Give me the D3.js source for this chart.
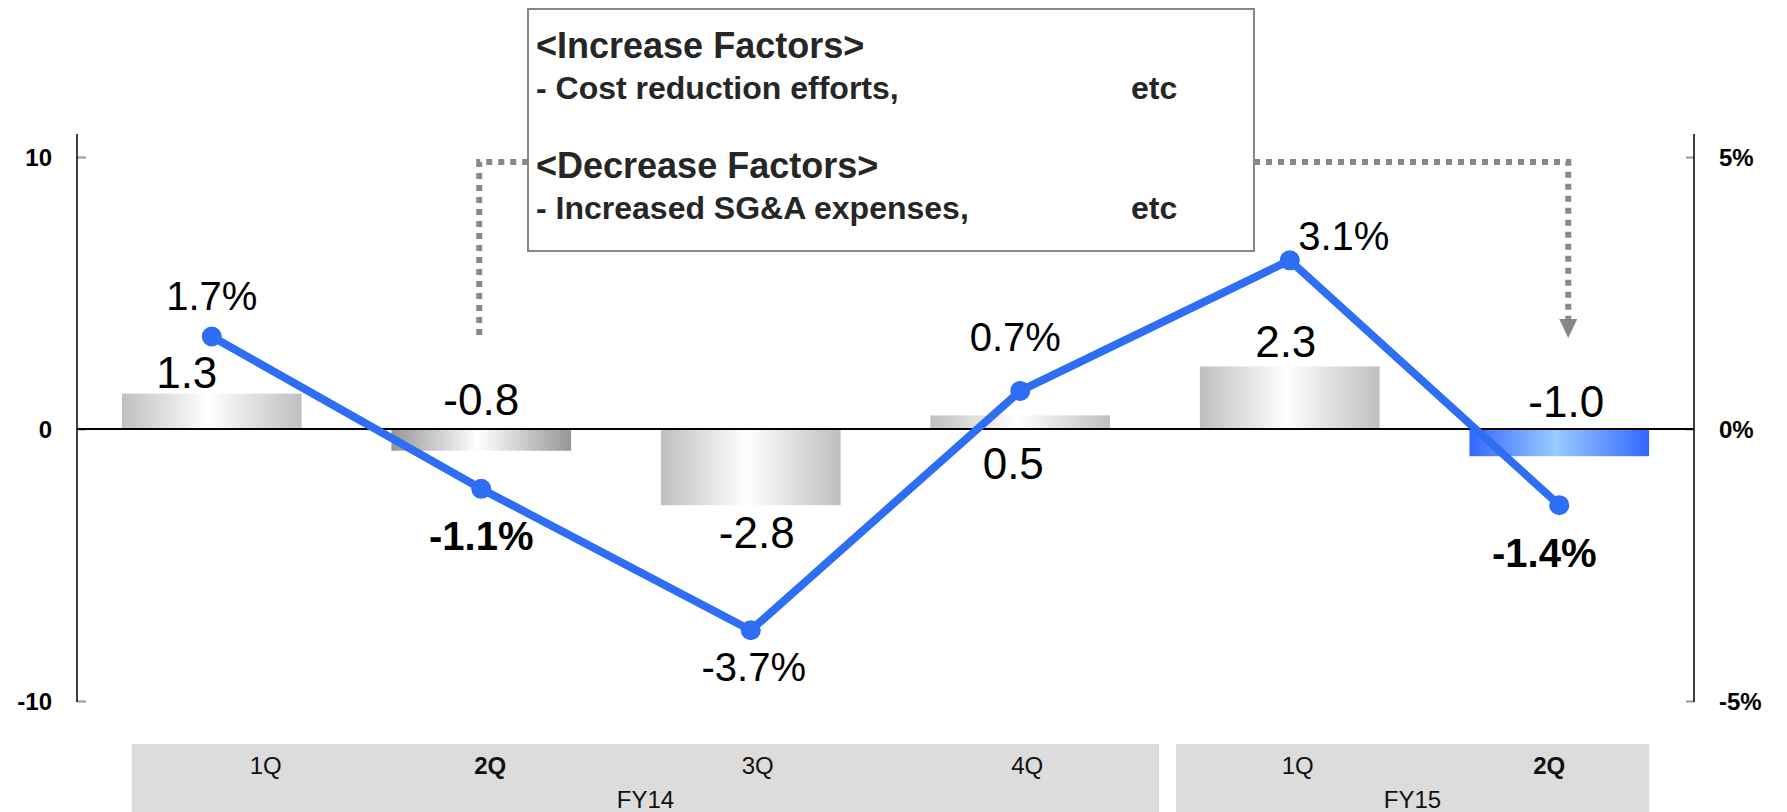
<!DOCTYPE html>
<html>
<head>
<meta charset="utf-8">
<script src="https://cdn.jsdelivr.net/npm/d3@7"></script>
<style>
  html, body { margin: 0; padding: 0; background: #fff; }
  svg { display: block; font-family: "Liberation Sans", Arial, sans-serif; }
</style>
</head>
<body>
<svg id="chart" width="1787" height="812"></svg>
<script>
// ---------------- data ----------------
const quarters = ["1Q", "2Q", "3Q", "4Q", "1Q", "2Q"];
const fiscalYears = ["FY14", "FY14", "FY14", "FY14", "FY15", "FY15"];
const fyGroups = ["FY14", "FY15"];
const barValues = [1.3, -0.8, -2.8, 0.5, 2.3, -1.0];        // left axis
const ratioValues = [1.7, -1.1, -3.7, 0.7, 3.1, -1.4];      // right axis, %
const barStyle = ["base", "prev", "base", "base", "base", "current"];
const boldQuarter = [false, true, false, false, false, true];
const leftTicks = [-10, 0, 10];
const rightTicks = [-5, 0, 5];
const increaseFactors = ["- Cost reduction efforts,"];
const decreaseFactors = ["- Increased SG&A expenses,"];

// ---------------- layout ----------------
const W = 1787, H = 812;
const plotL = 77, plotR = 1694, plotTop = 157, plotBot = 701;
const barLabelPos = [
  {dx: -25, y: 388}, {dx: 0, y: 415}, {dx: 6, y: 548},
  {dx: -7, y: 479}, {dx: -4, y: 357}, {dx: 7, y: 417}
];
const lineLabelPos = [
  {dx: 0, dy: -27}, {dx: 0, dy: 61}, {dx: 3, dy: 51},
  {dx: -5, dy: -40}, {dx: 54, dy: -10}, {dx: -15, dy: 62}
];
const catLabelDx = [54, 9, 7, 7, 8, -10];

const loc = d3.formatLocale({decimal: ".", thousands: ",", grouping: [3], currency: ["", ""], minus: "-"});
const f1 = loc.format(".1f");
const fInt = loc.format("d");

const svg = d3.select("#chart");
const defs = svg.append("defs");

const idx = d3.range(quarters.length);
const x = d3.scaleBand().domain(idx).range([plotL, plotR])
  .paddingInner(1/3).paddingOuter(1/6);
const yL = d3.scaleLinear().domain([-10, 10]).range([plotBot, plotTop]);
const yR = d3.scaleLinear().domain([-5, 5]).range([plotBot, plotTop]);

const gradDefs = {
  base: ["#bfbfbf", "#ffffff", "#bfbfbf"],
  prev: ["#969696", "#ffffff", "#969696"],
  current: ["#3366ff", "#99ccff", "#3366ff"]
};
Object.entries(gradDefs).forEach(([k, c]) => {
  const g = defs.append("linearGradient").attr("id", "g-" + k)
    .attr("x1", "0%").attr("x2", "100%").attr("y1", "0%").attr("y2", "0%");
  g.append("stop").attr("offset", "0%").attr("stop-color", c[0]);
  g.append("stop").attr("offset", "48%").attr("stop-color", c[1]);
  g.append("stop").attr("offset", "100%").attr("stop-color", c[2]);
});

// category table backgrounds
const tableTop = 744;
fyGroups.forEach(fy => {
  const members = idx.filter(i => fiscalYears[i] === fy);
  const first = members[0], last = members[members.length - 1];
  const x0 = fy === "FY14" ? x(first) + x.bandwidth()/2 - 80 : x(first) - 24;
  const x1 = fy === "FY14" ? x(last) + x.bandwidth() + 49 : x(last) + x.bandwidth();
  svg.append("rect").attr("x", x0).attr("y", tableTop).attr("width", x1 - x0)
    .attr("height", H - tableTop).attr("fill", "#dcdcdc");
  svg.append("text").attr("x", (x0 + x1) / 2).attr("y", 808)
    .attr("text-anchor", "middle").attr("font-size", 24).attr("fill", "#111")
    .text(fy);
});
svg.selectAll(".qlab").data(idx).join("text")
  .attr("x", i => x(i) + x.bandwidth()/2 + catLabelDx[i])
  .attr("y", 774).attr("text-anchor", "middle").attr("font-size", 24)
  .attr("font-weight", i => boldQuarter[i] ? "bold" : "normal")
  .attr("fill", "#111").text(i => quarters[i]);

// bars
svg.selectAll(".bar").data(idx).join("rect")
  .attr("x", i => x(i)).attr("width", x.bandwidth())
  .attr("y", i => yL(Math.max(0, barValues[i])))
  .attr("height", i => Math.abs(yL(barValues[i]) - yL(0)))
  .attr("fill", i => "url(#g-" + barStyle[i] + ")");

// axes
const axL = d3.axisLeft(yL).tickValues(leftTicks).tickSize(-9).tickPadding(25)
  .tickFormat(fInt);
const gL = svg.append("g").attr("transform", `translate(${plotL},0)`).call(axL);
const axR = d3.axisRight(yR).tickValues(rightTicks).tickSize(-8).tickPadding(25)
  .tickFormat(d => fInt(d) + "%");
const gR = svg.append("g").attr("transform", `translate(${plotR},0)`).call(axR);
[gL, gR].forEach(g => {
  g.select(".domain").remove();
  g.selectAll(".tick line").attr("stroke", "#999").attr("stroke-width", 2);
  g.selectAll(".tick text").attr("font-size", 24).attr("font-weight", "bold")
    .attr("fill", "#000").attr("font-family", "'Liberation Sans', Arial, sans-serif")
    .attr("dy", "0.36em");
});
[plotL, plotR].forEach(px => {
  svg.append("line").attr("x1", px).attr("x2", px).attr("y1", 134).attr("y2", plotBot + 1)
    .attr("stroke", "#000").attr("stroke-width", 1.5);
});
svg.append("line").attr("x1", plotL).attr("x2", plotR).attr("y1", yL(0)).attr("y2", yL(0))
  .attr("stroke", "#000").attr("stroke-width", 2);

// bar labels
svg.selectAll(".blab").data(idx).join("text")
  .attr("x", i => x(i) + x.bandwidth()/2 + barLabelPos[i].dx)
  .attr("y", i => barLabelPos[i].y)
  .attr("text-anchor", "middle").attr("font-size", 44).attr("fill", "#000")
  .text(i => f1(barValues[i]));

// ratio line
const cx = i => x(i) + x.bandwidth()/2;
svg.append("path").datum(idx)
  .attr("d", d3.line().x(cx).y(i => yR(ratioValues[i])))
  .attr("fill", "none").attr("stroke", "#2e6ef5").attr("stroke-width", 8)
  .attr("stroke-linejoin", "round");
svg.selectAll(".pt").data(idx).join("circle")
  .attr("cx", cx).attr("cy", i => yR(ratioValues[i])).attr("r", 10)
  .attr("fill", "#2e6ef5");
svg.selectAll(".llab").data(idx).join("text")
  .attr("x", i => cx(i) + lineLabelPos[i].dx)
  .attr("y", i => yR(ratioValues[i]) + lineLabelPos[i].dy)
  .attr("text-anchor", "middle").attr("font-size", 40)
  .attr("font-weight", i => boldQuarter[i] ? "bold" : "normal").attr("fill", "#000")
  .text(i => f1(ratioValues[i]) + "%");

// dotted connectors
const connY = 162;
const boxX = 528, boxY = 9, boxW = 726, boxH = 242;
svg.append("path")
  .attr("d", `M${cx(1) - 2},335 V${connY} H${boxX}`)
  .attr("fill", "none").attr("stroke", "#888").attr("stroke-width", 6)
  .attr("stroke-dasharray", "6,6");
const arrowX = cx(5) + 9;
svg.append("path")
  .attr("d", `M${boxX + boxW},${connY} H${arrowX} V320`)
  .attr("fill", "none").attr("stroke", "#888").attr("stroke-width", 6)
  .attr("stroke-dasharray", "6,6");
svg.append("path")
  .attr("d", `M${arrowX - 9},319 L${arrowX + 9},319 L${arrowX},338 Z`)
  .attr("fill", "#888");

// annotation box
svg.append("rect").attr("x", boxX).attr("y", boxY).attr("width", boxW).attr("height", boxH)
  .attr("fill", "#fff").attr("stroke", "#888").attr("stroke-width", 2);
const tx = 536;
const boxText = svg.append("g").attr("fill", "#262626").attr("font-weight", "bold");
boxText.append("text").attr("x", tx).attr("y", 58).attr("font-size", 36).text("<Increase Factors>");
increaseFactors.forEach((t, k) => {
  boxText.append("text").attr("x", tx).attr("y", 99 + k * 36).attr("font-size", 32).text(t);
  boxText.append("text").attr("x", 1131).attr("y", 99 + k * 36).attr("font-size", 32).text("etc");
});
boxText.append("text").attr("x", tx).attr("y", 178).attr("font-size", 36).text("<Decrease Factors>");
decreaseFactors.forEach((t, k) => {
  boxText.append("text").attr("x", tx).attr("y", 219 + k * 36).attr("font-size", 32).text(t);
  boxText.append("text").attr("x", 1131).attr("y", 219 + k * 36).attr("font-size", 32).text("etc");
});
</script>
</body>
</html>
